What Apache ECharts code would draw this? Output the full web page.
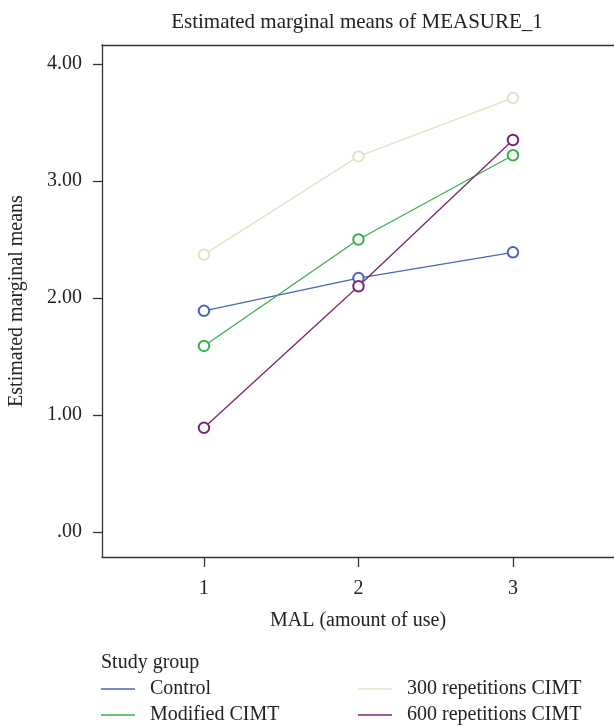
<!DOCTYPE html>
<html>
<head>
<meta charset="utf-8">
<script src="https://cdn.jsdelivr.net/npm/echarts@6/dist/echarts.min.js"></script>
<style>
html,body{margin:0;padding:0;background:#fff;}
#chart{width:614px;height:727px;}
</style>
</head>
<body>
<div id="chart"></div>
<script>
var categories = [1, 2, 3];
var yTicks = [0, 1, 2, 3, 4];
var seriesNames = ['Control', 'Modified CIMT', '300 repetitions CIMT', '600 repetitions CIMT'];
var control = [1.89, 2.17, 2.39];
var modifiedCIMT = [1.59, 2.50, 3.22];
var rep300CIMT = [2.37, 3.21, 3.71];
var rep600CIMT = [0.89, 2.10, 3.35];
var seriesValues = [control, modifiedCIMT, rep300CIMT, rep600CIMT];
var colors = ['#4a63b9', '#35b24a', '#e4e1c4', '#7b2572'];

var FONT = '"Liberation Serif", "DejaVu Serif", serif';
var FS = 20;
var chart = echarts.init(document.getElementById('chart'), null, {renderer: 'canvas'});

function pairs(vals) {
  return vals.map(function (v, i) { return [categories[i], v]; });
}

var series = seriesNames.map(function (name, k) {
  return {
    name: name,
    type: 'line',
    data: pairs(seriesValues[k]),
    symbol: 'emptyCircle',
    symbolSize: 10.5,
    showSymbol: true,
    color: colors[k],
    lineStyle: {width: 1.3, color: colors[k]},
    itemStyle: {color: colors[k], borderColor: colors[k], borderWidth: 1.3},
    emphasis: {disabled: true},
    animation: false
  };
});

function legendBlock(names, left) {
  return {
    data: names, orient: 'vertical', left: left, top: 679, width: 250, height: 60, padding: 0,
    icon: 'rect', itemWidth: 34, itemHeight: 1.3, itemGap: 6,
    itemStyle: {borderWidth: 0},
    textStyle: {fontFamily: FONT, fontSize: FS, color: '#222', padding: [0, 0, 0, 10], lineHeight: 20}
  };
}

var xMin = 0.34, xMax = 3.654;
var option = {
  backgroundColor: '#ffffff',
  animation: false,
  title: [
    {text: 'Estimated marginal means of MEASURE_1', left: 357, top: 12, padding: 0, textAlign: 'center',
     textStyle: {fontFamily: FONT, fontSize: 21, fontWeight: 'normal', color: '#222'}},
    {text: 'Study group', left: 101, top: 653, padding: 0,
     textStyle: {fontFamily: FONT, fontSize: FS, fontWeight: 'normal', color: '#222'}}
  ],
  legend: [legendBlock([seriesNames[0], seriesNames[1]], 101), legendBlock([seriesNames[2], seriesNames[3]], 358)],
  grid: {left: 102, top: 45, right: 0, bottom: 170, containLabel: false, outerBoundsMode: 'none'},
  xAxis: [
    {type: 'value', min: xMin, max: xMax, position: 'bottom',
     name: 'MAL (amount of use)', nameLocation: 'middle', nameGap: 54,
     nameTextStyle: {fontFamily: FONT, fontSize: FS, color: '#222'},
     axisLine: {show: true, onZero: false, lineStyle: {color: '#333', width: 1.3}},
     axisTick: {show: true, length: 10, customValues: categories, lineStyle: {color: '#333', width: 1.3}},
     axisLabel: {customValues: categories, margin: 22, fontFamily: FONT, fontSize: FS, color: '#222',
       formatter: function (v) { return String(v); }},
     splitLine: {show: false}},
    {type: 'value', min: xMin, max: xMax, position: 'top',
     axisLine: {show: true, onZero: false, lineStyle: {color: '#333', width: 1.3}},
     axisTick: {show: false}, axisLabel: {show: false}, splitLine: {show: false}}
  ],
  yAxis: {
    type: 'value', min: -0.214, max: 4.162,
    name: 'Estimated marginal means', nameLocation: 'middle', nameGap: 75, nameRotate: 90,
    nameTextStyle: {fontFamily: FONT, fontSize: FS, color: '#222'},
    axisLine: {show: true, onZero: false, lineStyle: {color: '#333', width: 1.3}},
    axisTick: {show: true, length: 9, customValues: yTicks, lineStyle: {color: '#333', width: 1.3}},
    axisLabel: {customValues: yTicks, margin: 20, fontFamily: FONT, fontSize: FS, color: '#222',
      formatter: function (v) { return v === 0 ? '.00' : v.toFixed(2); }},
    splitLine: {show: false}
  },
  series: series
};
chart.setOption(option);
</script>
</body>
</html>
